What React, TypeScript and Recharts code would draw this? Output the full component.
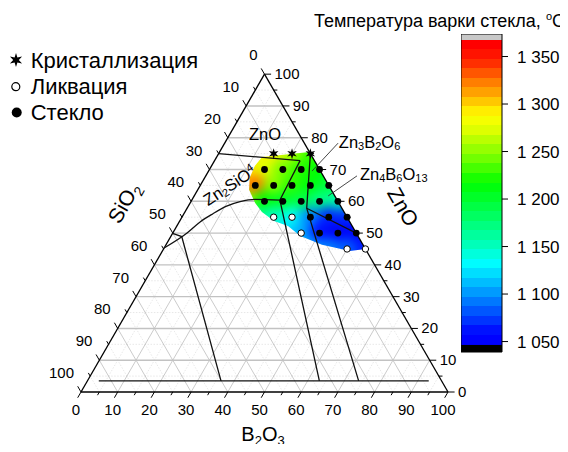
import React from "react";
import { ComposedChart, ReferenceArea, Scatter, ScatterChart, XAxis, YAxis } from "recharts";

const FONT = '"Liberation Sans", Arial, sans-serif';

// compositions are [SiO2, B2O3, ZnO], mol.%
const tickValues = [0, 10, 20, 30, 40, 50, 60, 70, 80, 90, 100];
const majorGrid = [10, 20, 30, 40, 50, 60, 70, 80, 90];
const minorGrid = [5, 15, 25, 35, 45, 55, 65, 75, 85, 95];

const crystallized = [[10, 15, 75], [5, 20, 75], [0, 25, 75]];
const liquation = [[20, 25, 55], [15, 30, 55], [15, 35, 50], [5, 50, 45], [0, 55, 45]];
const glass = [
  [15, 15, 70], [10, 20, 70], [5, 25, 70], [0, 30, 70],
  [20, 15, 65], [15, 20, 65], [10, 25, 65], [5, 30, 65], [0, 35, 65],
  [20, 20, 60], [15, 25, 60], [10, 30, 60], [5, 35, 60], [0, 40, 60],
  [10, 35, 55], [5, 40, 55], [0, 45, 55],
  [10, 40, 50], [5, 45, 50], [0, 50, 50],
];

// melting temperature field
const heatPoints = [
  [10, 15, 75], [5, 20, 75], [0, 25, 75],
  [20, 10, 70], [15, 15, 70], [10, 20, 70], [5, 25, 70], [0, 30, 70],
  [20, 15, 65], [15, 20, 65], [10, 25, 65], [5, 30, 65], [0, 35, 65],
  [25, 15, 60], [20, 20, 60], [15, 25, 60], [10, 30, 60], [5, 35, 60], [0, 40, 60],
  [25, 20, 55], [20, 25, 55], [15, 30, 55], [10, 35, 55], [5, 40, 55], [0, 45, 55],
  [20, 30, 50], [15, 35, 50], [10, 40, 50], [5, 45, 50], [0, 50, 50],
  [15, 40, 45], [10, 45, 45], [5, 50, 45], [0, 55, 45],
];
const heatTemps = [
  1292, 1262, 1230,
  1295, 1275, 1245, 1225, 1216,
  1325, 1250, 1228, 1214, 1195,
  1250, 1215, 1205, 1193, 1172, 1158,
  1170, 1150, 1136, 1096, 1068, 1072,
  1125, 1108, 1060, 1048, 1050,
  1110, 1095, 1085, 1065,
];
const heatOutline = [
  [13.7, 12.4, 73.9], [0, 24.5, 75.5], [0, 55, 45], [4.5, 51.1, 44.4], [11.2, 42.5, 46.3],
  [15.7, 35.2, 49.1], [17.5, 30.3, 52.2], [20.5, 25.7, 53.8], [22.4, 21.0, 56.6],
  [22.8, 17.7, 59.5], [22.4, 14.0, 63.6], [20.4, 12.3, 67.3], [17.1, 11.8, 71.1],
];

// phase boundaries
const liquidus = [
  [54.7, 0, 45.3], [46.1, 3.9, 50.0], [40.8, 5.7, 53.5], [36.0, 7.9, 56.1], [31.3, 10.3, 58.4],
  [26.7, 13.4, 59.9], [22.3, 17.1, 60.6], [15.6, 24.0, 60.4],
];
const boundaryLeft = [[50.1, 0, 49.9], [48.1, 3.0, 48.9], [60.1, 36.4, 3.5]];
const boundaryZnO = [[25, 0, 75], [3.9, 23.3, 72.8]];
const boundaryMid = [[3.9, 23.3, 72.8], [15.6, 24.0, 60.4], [33.3, 63.2, 3.5]];
const boundaryRight = [[0, 25, 75], [9.6, 32.6, 57.8], [22.6, 73.9, 3.5]];
const boundaryCross = [[9.6, 32.6, 57.8], [0, 50, 50]];
const boundaryBottom = [[93.3, 3.1, 3.5], [3.4, 93.0, 3.5]];
const leaderZn3 = [[-9.2, 30.9, 78.3], [2.3, 28.2, 69.5]];
const leaderZn4 = [[-9.2, 41.2, 68.0], [1.9, 36.5, 61.7]];

const colorbarTicks = [1050, 1100, 1150, 1200, 1250, 1300, 1350];
const colorStops: [number, string][] = [
  [1046, "#0000f0"], [1052, "#0000ff"], [1062, "#0010ff"], [1076, "#0040ff"], [1090, "#0070ff"],
  [1104, "#00a0ff"], [1118, "#00d0ff"], [1133, "#00ffff"], [1150, "#00ffc0"], [1167, "#00ff90"],
  [1188, "#00ff50"], [1217, "#00ff00"], [1238, "#60ff00"], [1255, "#a0ff00"], [1273, "#e0ff00"],
  [1287, "#ffff00"], [1297, "#ffe000"], [1308, "#ffb000"], [1322, "#ff8000"], [1342, "#ff3000"],
  [1359, "#ff0000"],
];

// chart geometry (pixels per composition unit, origin = SiO2 corner)
const W = 552;
const H = 436;
const PX = 3.67;
const OX = 73;
const OY = 384;
const SQ = Math.sqrt(3) / 2;

const toXY = (c: number[]) => ({ x: c[1] + c[2] / 2, y: c[2] * SQ });

function hex(c: string) {
  return [1, 3, 5].map((i) => parseInt(c.slice(i, i + 2), 16));
}

function tempColor(t: number) {
  if (t <= colorStops[0][0]) return colorStops[0][1];
  for (let i = 1; i < colorStops.length; i++) {
    if (t <= colorStops[i][0]) {
      const f = (t - colorStops[i - 1][0]) / (colorStops[i][0] - colorStops[i - 1][0]);
      const a = hex(colorStops[i - 1][1]);
      const b = hex(colorStops[i][1]);
      return `rgb(${a.map((v, k) => Math.round(v + (b[k] - v) * f)).join(",")})`;
    }
  }
  return colorStops[colorStops.length - 1][1];
}

const pairs = (list: number[][][]) => list.flatMap(([a, b]) => [toXY(a), toXY(b)]);
const horiz = (v: number) => [[100 - v, 0, v], [0, 100 - v, v]];
const diagB = (v: number) => [[100 - v, v, 0], [0, v, 100 - v]];
const diagS = (v: number) => [[v, 100 - v, 0], [v, 0, 100 - v]];

const tickPairs = (vals: number[], L: number) => [
  ...vals.map((s) => [[s, 0, 100 - s], [s, -L, 100 - s + L]]),
  ...vals.map((b) => [[100 - b, b, 0], [100 - b + L, b, -L]]),
  ...vals.map((z) => [[0, 100 - z, z], [-L, 100 - z + L, z]]),
];

const segments = (stroke: string, width: number, dash?: string) => (lp: any) => {
  const pts = lp.points || [];
  const out = [];
  for (let i = 0; i + 1 < pts.length; i += 2) {
    out.push(
      <line key={i} x1={pts[i].x} y1={pts[i].y} x2={pts[i + 1].x} y2={pts[i + 1].y}
        stroke={stroke} strokeWidth={width} strokeDasharray={dash} />
    );
  }
  return <g>{out}</g>;
};

const noShape = () => <g />;

const clipLayer = (lp: any) => (
  <defs>
    <clipPath id="heat-clip">
      <polygon points={lp.points.map((p: any) => `${p.x},${p.y}`).join(" ")} />
    </clipPath>
  </defs>
);

const heatLayer = (lp: any) => (
  <g clipPath="url(#heat-clip)">
    <g filter="url(#heat-blur)">
      {lp.points.map((p: any, i: number) => (
        <circle key={i} cx={p.x} cy={p.y} r={11} fill={tempColor(heatTemps[i])} />
      ))}
    </g>
  </g>
);

function starPoints(cx: number, cy: number, R: number, r: number) {
  const pts = [];
  for (let i = 0; i < 12; i++) {
    const a = (Math.PI / 6) * i - Math.PI / 2;
    const rad = i % 2 === 0 ? R : r;
    pts.push(`${cx + rad * Math.cos(a)},${cy + rad * Math.sin(a)}`);
  }
  return pts.join(" ");
}

const txt = { fontFamily: FONT, fill: "#000" };

const notes = [
  { id: "ZnO", c: [10.2, 10.5, 79.3] },
  { id: "Zn3B2O6", c: [-8.7, 31.8, 76.9] },
  { id: "Zn4B6O13", c: [-9.3, 42.7, 66.6] },
  { id: "Zn2SiO4", c: [27.0, 8.2, 64.8] },
  { id: "SiO2", c: [58.5, -18.0, 59.5] },
  { id: "ZnOaxis", c: [-16.8, 58.6, 58.2] },
];

function NoteShape(p: any) {
  const { cx, cy } = p;
  const sub = { fontSize: 11 };
  switch (p.payload.id) {
    case "ZnO":
      return <text x={cx} y={cy} textAnchor="middle" fontSize={16.5} {...txt}>ZnO</text>;
    case "Zn3B2O6":
      return (
        <text x={cx} y={cy} fontSize={16.5} {...txt}>
          Zn<tspan {...sub} dy={2}>3</tspan><tspan dy={-2}>B</tspan><tspan {...sub} dy={2}>2</tspan>
          <tspan dy={-2}>O</tspan><tspan {...sub} dy={2}>6</tspan>
        </text>
      );
    case "Zn4B6O13":
      return (
        <text x={cx} y={cy} fontSize={16.5} {...txt}>
          Zn<tspan {...sub} dy={2}>4</tspan><tspan dy={-2}>B</tspan><tspan {...sub} dy={2}>6</tspan>
          <tspan dy={-2}>O</tspan><tspan {...sub} dy={2}>13</tspan>
        </text>
      );
    case "Zn2SiO4":
      return (
        <text x={cx} y={cy + 5} textAnchor="middle" fontSize={16.5} transform={`rotate(-33 ${cx} ${cy})`} {...txt}>
          Zn<tspan {...sub} dy={2}>2</tspan><tspan dy={-2}>SiO</tspan><tspan {...sub} dy={-6}>4</tspan>
        </text>
      );
    case "SiO2":
      return (
        <text x={cx} y={cy + 7} textAnchor="middle" fontSize={21} transform={`rotate(-60 ${cx} ${cy})`} {...txt}>
          SiO<tspan fontSize={14} dy={5}>2</tspan>
        </text>
      );
    case "ZnOaxis":
      return (
        <text x={cx} y={cy + 7} textAnchor="middle" fontSize={21} transform={`rotate(60 ${cx} ${cy})`} {...txt}>
          ZnO
        </text>
      );
    default:
      return <g />;
  }
}

const leftLabel = (p: any) => (
  <text x={p.cx - 7} y={p.cy - 14} textAnchor="end" fontSize={15} {...txt}>{p.payload.label}</text>
);
const bottomLabel = (p: any) => (
  <text x={p.cx - 5} y={p.cy + 23} textAnchor="middle" fontSize={15} {...txt}>{p.payload.label}</text>
);
const rightLabel = (p: any) => (
  <text x={p.cx + 10} y={p.cy + 5} textAnchor="start" fontSize={15} {...txt}>{p.payload.label}</text>
);

const CB_TOP = 1373.7;
const CB_BOTTOM = 1039;
const CB_HI = 1367.4;
const CB_LO = 1046.4;

function colorbarStops() {
  const stops = [];
  let k = 0;
  for (let hi = CB_HI; hi > CB_LO; hi -= 10) {
    const lo = Math.max(hi - 10, CB_LO);
    const col = tempColor((hi + lo) / 2);
    stops.push(<stop key={k++} offset={(CB_HI - hi) / (CB_HI - CB_LO)} stopColor={col} />);
    stops.push(<stop key={k++} offset={(CB_HI - lo) / (CB_HI - CB_LO)} stopColor={col} />);
  }
  return stops;
}

const fmtTemp = (v: number) => `${Math.floor(v / 1000)} ${String(v % 1000).padStart(3, "0")}`;

export default function App() {
  const line = (d: number[][]) => d.map(toXY);
  const labelsLeft = tickValues.map((s) => ({ ...toXY([s, 0, 100 - s]), label: String(s) }));
  const labelsBottom = tickValues.map((b) => ({ ...toXY([100 - b, b, 0]), label: String(b) }));
  const labelsRight = tickValues.map((z) => ({ ...toXY([0, 100 - z, z]), label: String(z) }));
  const edges = pairs([[[100, 0, 0], [0, 100, 0]], [[0, 100, 0], [0, 0, 100]], [[0, 0, 100], [100, 0, 0]]]);

  return (
    <div style={{ position: "relative", width: W, height: H, fontFamily: FONT }}>
      <svg width={0} height={0} style={{ position: "absolute" }}>
        <defs>
          <filter id="heat-blur" x="-30%" y="-30%" width="160%" height="160%" colorInterpolationFilters="sRGB">
            <feGaussianBlur stdDeviation={5.5} />
            <feComponentTransfer>
              <feFuncA type="linear" slope={3} />
            </feComponentTransfer>
          </filter>
          <linearGradient id="cb-grad" x1="0" y1="0" x2="0" y2="1">
            {colorbarStops()}
          </linearGradient>
        </defs>
      </svg>

      <ScatterChart width={W} height={H} margin={{ top: 0, right: 0, bottom: 0, left: 0 }}>
        <XAxis type="number" dataKey="x" domain={[-OX / PX, (W - OX) / PX]} hide />
        <YAxis type="number" dataKey="y" domain={[-(H - OY) / PX, OY / PX]} hide />

        <Scatter data={pairs([...minorGrid.map(horiz), ...minorGrid.map(diagB), ...minorGrid.map(diagS)])}
          line={segments("#d9d9d9", 0.6, "1.5 1.5")} shape={noShape} isAnimationActive={false} />
        <Scatter data={pairs([...majorGrid.map(diagB), ...majorGrid.map(diagS)])}
          line={segments("#a8a8a8", 0.6)} shape={noShape} isAnimationActive={false} />
        <Scatter data={pairs(majorGrid.map(horiz))}
          line={segments("#c2c2c2", 1.4)} shape={noShape} isAnimationActive={false} />

        <Scatter data={line(heatOutline)} line={clipLayer} shape={noShape} isAnimationActive={false} />
        <Scatter data={line(heatPoints)} line={heatLayer} shape={noShape} isAnimationActive={false} />

        <Scatter data={edges} line={segments("#000", 1.3)} shape={noShape} isAnimationActive={false} />
        <Scatter data={pairs(tickPairs(tickValues, 1.8))} line={segments("#000", 1)} shape={noShape} isAnimationActive={false} />
        <Scatter data={pairs(tickPairs(minorGrid, 1))} line={segments("#000", 1)} shape={noShape} isAnimationActive={false} />

        <Scatter data={line(liquidus)} line={{ stroke: "#111", strokeWidth: 1.3 }} lineJointType="monotoneX" shape={noShape} isAnimationActive={false} />
        {[boundaryLeft, boundaryZnO, boundaryMid, boundaryRight, boundaryCross, boundaryBottom].map((b, i) => (
          <Scatter key={`b${i}`} data={line(b)} line={{ stroke: "#111", strokeWidth: 1.3 }} shape={noShape} isAnimationActive={false} />
        ))}
        {[leaderZn3, leaderZn4].map((b, i) => (
          <Scatter key={`l${i}`} data={line(b)} line={{ stroke: "#333", strokeWidth: 0.9 }} shape={noShape} isAnimationActive={false} />
        ))}

        <Scatter data={line(liquation)} isAnimationActive={false}
          shape={(p: any) => <circle cx={p.cx} cy={p.cy} r={3.2} fill="#fff" stroke="#000" strokeWidth={1} />} />
        <Scatter data={line(glass)} isAnimationActive={false}
          shape={(p: any) => <circle cx={p.cx} cy={p.cy} r={3.4} fill="#000" />} />
        <Scatter data={line(crystallized)} isAnimationActive={false}
          shape={(p: any) => <polygon points={starPoints(p.cx, p.cy, 5.5, 2.2)} fill="#000" />} />

        <Scatter data={labelsLeft} shape={leftLabel} isAnimationActive={false} />
        <Scatter data={labelsBottom} shape={bottomLabel} isAnimationActive={false} />
        <Scatter data={labelsRight} shape={rightLabel} isAnimationActive={false} />
        <Scatter data={notes.map((n) => ({ ...toXY(n.c), id: n.id }))} shape={NoteShape} isAnimationActive={false} />
      </ScatterChart>

      <div style={{ position: "absolute", left: 453, top: 26 }}>
        <ComposedChart width={104} height={340} data={colorbarTicks.map((t) => ({ x: 0.5, t }))}
          margin={{ top: 0, right: 0, bottom: 22, left: 0 }}>
          <XAxis type="number" dataKey="x" domain={[0, 1]} hide />
          <YAxis type="number" orientation="right" domain={[CB_BOTTOM, CB_TOP]} allowDataOverflow
            ticks={colorbarTicks} interval={0} width={63} tickSize={6} tickMargin={9}
            axisLine={false} tickLine={{ stroke: "#000" }}
            tick={{ fill: "#000", fontSize: 17, fontFamily: FONT }} tickFormatter={fmtTemp} />
          <ReferenceArea x1={0} x2={1} y1={CB_HI} y2={CB_TOP} fill="#c8c8c8" fillOpacity={1} />
          <ReferenceArea x1={0} x2={1} y1={CB_LO} y2={CB_HI} fill="url(#cb-grad)" fillOpacity={1} />
          <ReferenceArea x1={0} x2={1} y1={CB_BOTTOM} y2={CB_LO} fill="#000" fillOpacity={1} />
          <ReferenceArea x1={0} x2={1} y1={CB_BOTTOM} y2={CB_TOP} fillOpacity={0} stroke="#000" strokeWidth={1} />
        </ComposedChart>
      </div>

      <svg width={558} height={H} style={{ position: "absolute", left: 0, top: 0, pointerEvents: "none", overflow: "visible" }}>
        <polygon points={starPoints(8, 52, 7, 2.8)} fill="#000" />
        <text x={22.7} y={59.5} fontSize={22} {...txt}>Кристаллизация</text>
        <circle cx={7.8} cy={78.7} r={4} fill="#fff" stroke="#000" strokeWidth={1.2} />
        <text x={22.7} y={86} fontSize={22} {...txt}>Ликвация</text>
        <circle cx={8.7} cy={104.5} r={5} fill="#000" />
        <text x={22.7} y={112} fontSize={22} {...txt}>Стекло</text>
        <text x={557} y={18.5} textAnchor="end" fontSize={18} {...txt}>
          Температура варки стекла, <tspan fontSize={11} dy={-7}>o</tspan><tspan dy={7}>C</tspan>
        </text>
        <text x={255} y={433} textAnchor="middle" fontSize={20} {...txt}>
          B<tspan fontSize={13} dy={4}>2</tspan><tspan dy={-4}>O</tspan><tspan fontSize={13} dy={4}>3</tspan>
        </text>
      </svg>
    </div>
  );
}
